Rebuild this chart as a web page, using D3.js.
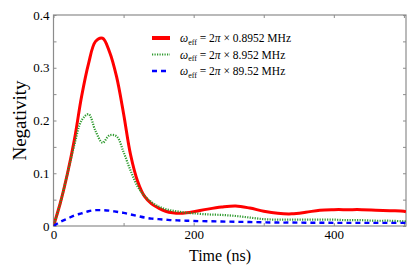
<!DOCTYPE html>
<html>
<head>
<meta charset="utf-8">
<script src="https://cdn.jsdelivr.net/npm/d3@7"></script>
<style>
  body { margin: 0; background: #fff; }
  svg text { font-family: "Times New Roman", "Liberation Serif", "DejaVu Serif", serif; font-weight: normal; }
</style>
</head>
<body>
<div id="holder"></div>
<script>
// time grid (ns) shared by all three curves
const times = [0,10,20,30,40,50,60,70,80,90,100,110,120,130,140,150,160,170,180,190,200,
  220,240,260,280,300,320,340,360,380,400,420,440,460,480,500,503];
const negSlow = [0,0.045,0.1,0.165,0.245,0.308,0.350,0.356,0.33,0.283,0.213,0.135,0.085,0.056,0.042,0.034,0.028,0.025,0.024,0.025,0.027,
  0.032,0.036,0.038,0.034,0.028,0.024,0.023,0.026,0.030,0.031,0.031,0.031,0.030,0.029,0.028,0.027];
const negMid = [0,0.045,0.1,0.155,0.2,0.212,0.18,0.158,0.172,0.17,0.14,0.105,0.075,0.057,0.045,0.037,0.032,0.029,0.027,0.025,0.024,
  0.022,0.021,0.019,0.016,0.013,0.012,0.012,0.012,0.012,0.012,0.011,0.011,0.010,0.010,0.009,0.009];
const negFast = [0,0.008,0.014,0.02,0.024,0.028,0.03,0.03,0.029,0.027,0.025,0.022,0.019,0.016,0.014,0.013,0.012,0.011,0.0105,0.01,0.0095,
  0.009,0.0085,0.008,0.0075,0.007,0.0065,0.0065,0.0063,0.0062,0.006,0.006,0.006,0.006,0.006,0.006,0.006];
const legendNums = ["0.8952", "8.952", "89.52"];
const xTicks = [0,100,200,300,400,500];
const xLabels = [0,200,400];
const yTicks = [0,0.05,0.1,0.15,0.2,0.25,0.3,0.35,0.4];
const yLabels = [0,0.1,0.2,0.3,0.4];

const width = 415;
const height = 275;
const margin = {left: 53.5, right: 9, top: 15, bottom: 49};

const svg = d3.select("#holder").append("svg")
  .attr("width", width)
  .attr("height", height);

const x = d3.scaleLinear().domain([0, 503]).range([margin.left, width - margin.right]);
const y = d3.scaleLinear().domain([0, 0.4]).range([height - margin.bottom, margin.top]);

const frame = "#8c8c8c";

function styleAxis(g) {
  g.attr("font-family", null).attr("font-size", 13);
  g.select(".domain").remove();
  g.selectAll(".tick line").attr("stroke", frame);
  g.selectAll(".tick text").attr("fill", "#000");
}

// bottom + top ticks (inward)
svg.append("g")
  .attr("transform", `translate(0,${y(0)})`)
  .call(d3.axisBottom(x).tickValues(xTicks).tickSize(-3).tickPadding(4)
    .tickFormat(d => xLabels.includes(d) ? d : ""))
  .call(styleAxis);
svg.append("g")
  .attr("transform", `translate(0,${y(0.4)})`)
  .call(d3.axisTop(x).tickValues(xTicks).tickSize(-3).tickFormat(""))
  .call(styleAxis);

// left + right ticks
svg.append("g")
  .attr("transform", `translate(${x(0)},0)`)
  .call(d3.axisLeft(y).tickValues(yTicks).tickSize(-3).tickPadding(4)
    .tickFormat(d => yLabels.includes(d) ? d3.format("")(d) : ""))
  .call(styleAxis);
svg.append("g")
  .attr("transform", `translate(${x(503)},0)`)
  .call(d3.axisRight(y).tickValues(yTicks).tickSize(-3).tickFormat(""))
  .call(styleAxis);

svg.append("rect")
  .attr("x", x(0)).attr("y", y(0.4))
  .attr("width", x(503) - x(0)).attr("height", y(0) - y(0.4))
  .attr("fill", "none").attr("stroke", frame).attr("stroke-width", 1.2);

svg.append("clipPath").attr("id", "clip")
  .append("rect")
  .attr("x", x(0)).attr("y", y(0.4) - 2)
  .attr("width", x(503) - x(0)).attr("height", y(0) - y(0.4) + 2);

const series = [
  {values: negSlow, color: "#ff0000", width: 3, dash: null},
  {values: negMid, color: "#2e9a2e", width: 2.2, dash: "1.2,1.3"},
  {values: negFast, color: "#0000ff", width: 2.4, dash: "5,4"}
];

const line = d3.line()
  .x(d => x(d[0]))
  .y(d => y(d[1]))
  .curve(d3.curveCatmullRom.alpha(0.5));

svg.append("g").attr("clip-path", "url(#clip)")
  .selectAll("path")
  .data(series)
  .enter()
  .append("path")
  .attr("d", s => line(times.map((t, i) => [t, s.values[i]])))
  .attr("fill", "none")
  .attr("stroke", s => s.color)
  .attr("stroke-width", s => s.width)
  .attr("stroke-dasharray", s => s.dash);

// legend
const legend = svg.append("g");
series.forEach((s, i) => {
  const ly = 38 + i * 16.5;
  legend.append("line")
    .attr("x1", 152).attr("x2", 170)
    .attr("y1", ly).attr("y2", ly)
    .attr("stroke", s.color)
    .attr("stroke-width", s.width + (i === 0 ? 1 : 0))
    .attr("stroke-dasharray", s.dash);
  const t = legend.append("text")
    .attr("x", 180).attr("y", ly + 4)
    .attr("font-size", 11.5);
  t.append("tspan").attr("font-style", "italic").text("ω");
  t.append("tspan").attr("dy", 2.5).attr("font-size", 8).text("eff");
  t.append("tspan").attr("dy", -2.5).text(" = 2");
  t.append("tspan").attr("font-style", "italic").text("π");
  t.append("tspan").text(" × " + legendNums[i] + " MHz");
});

svg.append("text")
  .attr("x", 220).attr("y", 261)
  .attr("text-anchor", "middle")
  .attr("font-size", 16)
  .text("Time (ns)");

svg.append("text")
  .attr("transform", `translate(26,${(y(0) + y(0.4)) / 2}) rotate(-90)`)
  .attr("text-anchor", "middle")
  .attr("font-size", 19)
  .text("Negativity");
</script>
</body>
</html>
